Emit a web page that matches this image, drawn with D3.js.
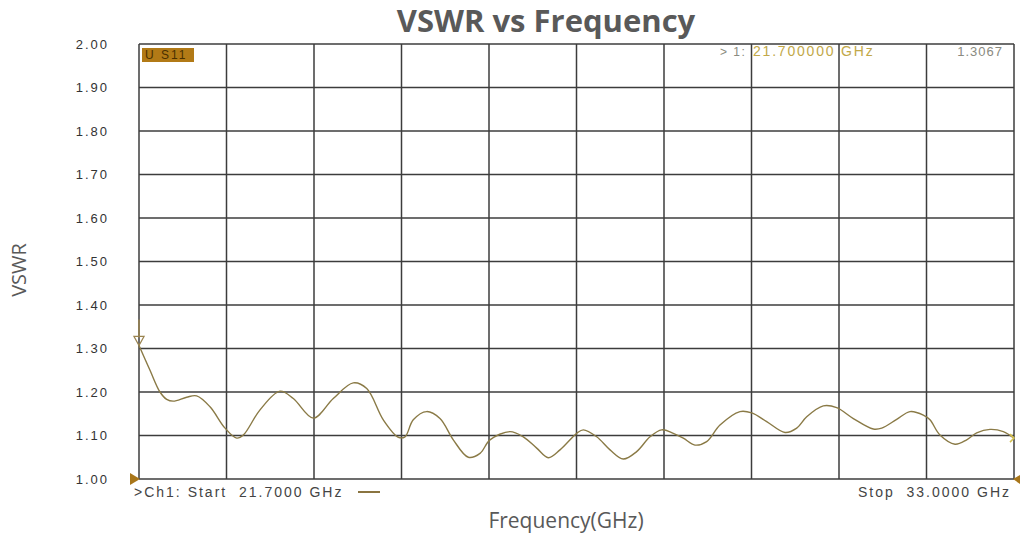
<!DOCTYPE html>
<html>
<head>
<meta charset="utf-8">
<script src="https://cdn.jsdelivr.net/npm/d3@7"></script>
<style>
  body { margin: 0; background: #fff; }
  svg { display: block; }
</style>
</head>
<body>
<div id="vis"></div>
<script>
const freqs = [21.70, 21.842, 21.971, 22.058, 22.143, 22.316, 22.445, 22.617, 22.811, 22.962,
  23.047, 23.263, 23.521, 23.693, 23.951, 24.209, 24.467, 24.641, 24.855, 25.049,
  25.135, 25.242, 25.415, 25.587, 25.759, 25.953, 26.104, 26.233, 26.491, 26.663,
  26.836, 26.986, 27.137, 27.353, 27.438, 27.611, 27.783, 27.954, 28.127, 28.299,
  28.450, 28.600, 28.729, 28.880, 29.031, 29.203, 29.461, 29.613, 29.806, 30.043,
  30.194, 30.323, 30.537, 30.710, 30.925, 31.183, 31.292, 31.485, 31.657, 31.829,
  31.915, 32.044, 32.238, 32.389, 32.518, 32.690, 32.862, 33.00];
const vswr = [1.307, 1.250, 1.200, 1.183, 1.179, 1.188, 1.191, 1.166, 1.117, 1.094,
  1.101, 1.159, 1.202, 1.185, 1.140, 1.185, 1.221, 1.208, 1.136, 1.096,
  1.097, 1.136, 1.155, 1.139, 1.090, 1.050, 1.059, 1.090, 1.109, 1.097,
  1.071, 1.049, 1.067, 1.105, 1.113, 1.097, 1.067, 1.046, 1.063, 1.097,
  1.113, 1.105, 1.094, 1.078, 1.086, 1.124, 1.155, 1.152, 1.132, 1.107,
  1.117, 1.143, 1.168, 1.164, 1.139, 1.115, 1.117, 1.137, 1.155, 1.147,
  1.136, 1.101, 1.080, 1.090, 1.106, 1.114, 1.109, 1.094];

const yTicks = [1.00, 1.10, 1.20, 1.30, 1.40, 1.50, 1.60, 1.70, 1.80, 1.90, 2.00];
const xGrid = d3.range(11).map(i => 21.7 + i * 1.13);

const startLabel = ">Ch1: Start  21.7000 GHz";
const stopLabel = "Stop  33.0000 GHz";
const markerName = "> 1:";
const markerFreq = "21.700000 GHz";
const markerVal = "1.3067";

const W = 1022, H = 538;
const margin = { top: 44, left: 139, right: 8, bottom: 59 };
const width = W - margin.left - margin.right,
      height = H - margin.top - margin.bottom;

const gold = "#a8761a";
const traceCol = "#8a7a46";
const gridCol = "#3c3c3c";
const instFont = "Arial, 'Liberation Sans', sans-serif";

const root = d3.select("#vis").append("svg")
  .attr("width", W)
  .attr("height", H);

const svg = root.append("g")
  .attr("transform", `translate(${margin.left},${margin.top})`);

const x = d3.scaleLinear().domain([21.7, 33.0]).range([0, width]);
const y = d3.scaleLinear().domain([1.0, 2.0]).range([height, 0]);

// grid
svg.selectAll(".vgrid")
  .data(xGrid)
  .join("line")
  .attr("class", "vgrid")
  .attr("x1", d => x(d)).attr("x2", d => x(d))
  .attr("y1", 0).attr("y2", height)
  .attr("stroke", gridCol)
  .attr("stroke-width", 1.5);

svg.selectAll(".hgrid")
  .data(yTicks)
  .join("line")
  .attr("class", "hgrid")
  .attr("x1", 0).attr("x2", width)
  .attr("y1", d => y(d)).attr("y2", d => y(d))
  .attr("stroke", gridCol)
  .attr("stroke-width", 1.5);

// y tick labels
const yAxis = svg.append("g")
  .call(d3.axisLeft(y).tickValues(yTicks).tickFormat(d3.format(".2f")).tickSize(0).tickPadding(30));
yAxis.select(".domain").remove();
yAxis.selectAll("text")
  .style("font-family", instFont)
  .style("font-size", "13px")
  .style("letter-spacing", "2px")
  .attr("fill", "#333");

// trace
svg.append("path")
  .datum(freqs.map((f, i) => [f, vswr[i]]))
  .attr("fill", "none")
  .attr("stroke", traceCol)
  .attr("stroke-width", 1.4)
  .attr("d", d3.line()
    .x(d => x(d[0]))
    .y(d => y(d[1]))
    .curve(d3.curveCatmullRom.alpha(0.5)));

// marker 1 at start
const mx = x(freqs[0]), my = y(vswr[0]);
svg.append("line")
  .attr("x1", mx).attr("x2", mx)
  .attr("y1", my - 26).attr("y2", my - 8)
  .attr("stroke", "#9a8450").attr("stroke-width", 1.5);
svg.append("path")
  .attr("d", `M${mx - 5},${my - 9}L${mx + 5},${my - 9}L${mx},${my}Z`)
  .attr("fill", "none")
  .attr("stroke", "#9a8450")
  .attr("stroke-width", 1.3);

// reference-level triangles
svg.append("path")
  .attr("d", `M${-9},${height - 6}L1,${height}L${-9},${height + 6}Z`)
  .attr("fill", gold);
svg.append("path")
  .attr("d", `M${width + 6},${height - 4}L${width - 1},${height}L${width + 6},${height + 5}Z`)
  .attr("fill", gold);
// end-of-trace tick
const ex = x(freqs[freqs.length - 1]), ey = y(vswr[vswr.length - 1]);
svg.append("path")
  .attr("d", `M${ex - 4},${ey - 4}L${ex},${ey}L${ex - 4},${ey + 4}`)
  .attr("fill", "none")
  .attr("stroke", "#d4c050")
  .attr("stroke-width", 1.5);

// trace label box
svg.append("rect")
  .attr("x", 3).attr("y", 4)
  .attr("width", 52).attr("height", 14)
  .attr("fill", "#b27a16");
svg.append("text")
  .attr("x", 6).attr("y", 15)
  .text("U S11")
  .style("font-family", instFont)
  .style("font-size", "12px")
  .style("letter-spacing", "2px")
  .attr("fill", "#4a3000");

// marker readout
svg.append("text")
  .attr("x", 581).attr("y", 12)
  .text(markerName)
  .style("font-family", instFont).style("font-size", "12px").style("letter-spacing", "1.5px")
  .attr("fill", "#8a8a80");
svg.append("text")
  .attr("x", 614).attr("y", 12)
  .text(markerFreq)
  .style("font-family", instFont).style("font-size", "14px").style("letter-spacing", "1.8px")
  .attr("fill", "#c2a848");
svg.append("text")
  .attr("x", 864).attr("y", 12)
  .attr("text-anchor", "end")
  .text(markerVal)
  .style("font-family", instFont).style("font-size", "13px").style("letter-spacing", "1px")
  .attr("fill", "#8a8a80");

// start / stop line under the grid
svg.append("text")
  .attr("x", -5).attr("y", height + 18)
  .text(startLabel)
  .style("font-family", instFont).style("font-size", "14px").style("letter-spacing", "2px")
  .style("white-space", "pre")
  .attr("fill", "#444");
svg.append("line")
  .attr("x1", 219).attr("x2", 241)
  .attr("y1", height + 13).attr("y2", height + 13)
  .attr("stroke", "#8a7440").attr("stroke-width", 2);
svg.append("text")
  .attr("x", width - 3).attr("y", height + 18)
  .attr("text-anchor", "end")
  .text(stopLabel)
  .style("font-family", instFont).style("font-size", "14px").style("letter-spacing", "2px")
  .style("white-space", "pre")
  .attr("fill", "#444");

// title and axis titles
root.append("text")
  .attr("x", 546).attr("y", 32)
  .attr("text-anchor", "middle")
  .text("VSWR vs Frequency")
  .style("font-family", "'Open Sans', sans-serif")
  .style("font-weight", "bold")
  .style("font-size", "31px")
  .attr("fill", "#595959");

root.append("text")
  .attr("x", 566).attr("y", 528)
  .attr("text-anchor", "middle")
  .text("Frequency(GHz)")
  .style("font-family", "'Open Sans', sans-serif")
  .style("font-size", "21px")
  .attr("fill", "#595959");

root.append("text")
  .attr("transform", "translate(26,270) rotate(-90)")
  .attr("text-anchor", "middle")
  .text("VSWR")
  .style("font-family", "'Open Sans', sans-serif")
  .style("font-size", "20px")
  .attr("fill", "#595959");
</script>
</body>
</html>
